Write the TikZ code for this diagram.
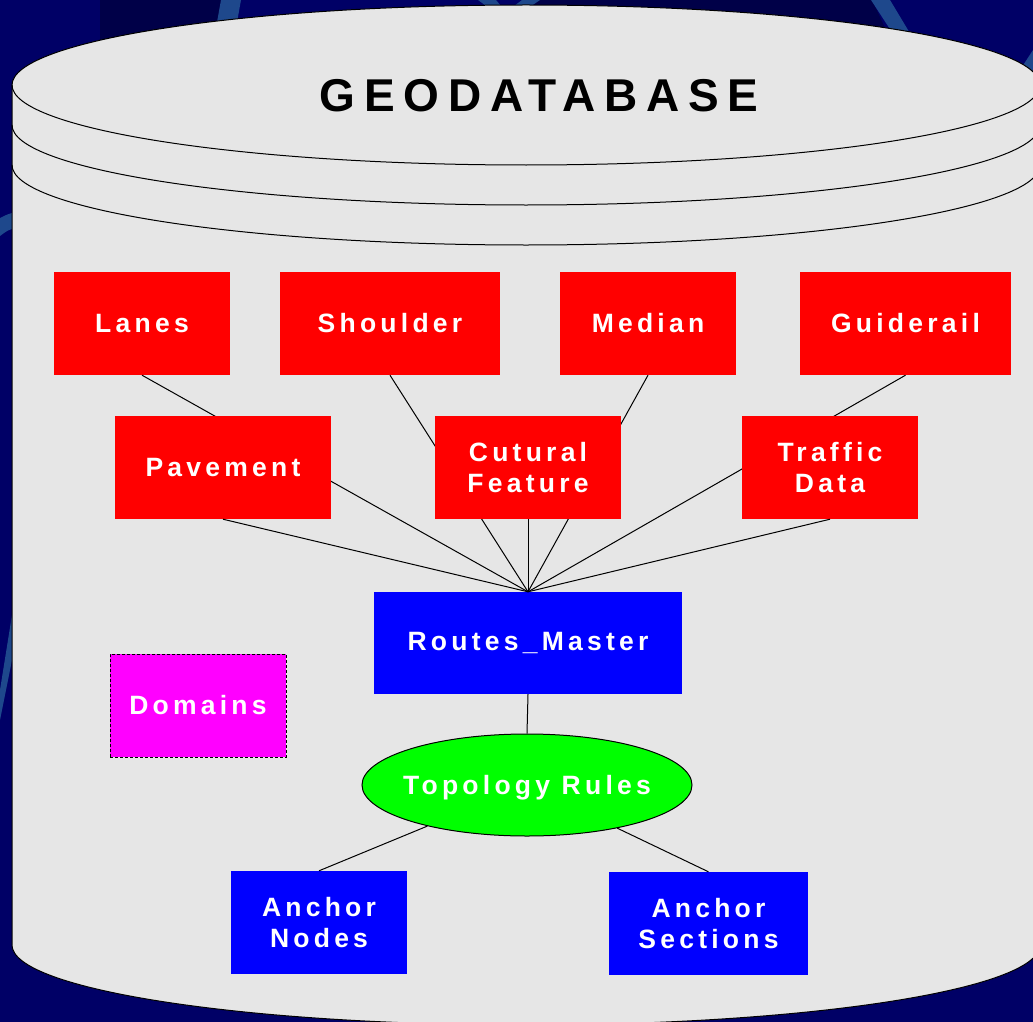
\documentclass[tikz,border=0pt]{standalone}
\usepackage{fontspec}
\setmainfont{Liberation Sans}
\newfontfamily\boxfont[LetterSpace=16]{Liberation Sans}
\newfontfamily\titlefont[LetterSpace=19]{Liberation Sans}
\usetikzlibrary{positioning,shapes.geometric}

\definecolor{bgnavy}{RGB}{0,0,102}
\definecolor{bgdark}{RGB}{0,0,72}
\definecolor{bgstripe}{RGB}{30,72,140}
\definecolor{dbgray}{RGB}{230,230,230}
\definecolor{domainpink}{RGB}{255,0,255}
\definecolor{rulegreen}{RGB}{0,255,0}

\tikzset{
  box/.style={rectangle, minimum height=103pt, inner sep=0pt, align=center,
    text=white, font={\fontsize{26.5}{31.5}\boxfont\bfseries}},
  feature/.style={box, fill=red},
  master/.style={box, fill=blue},
  link/.style={draw=black, line width=1pt},
}

\begin{document}
\begin{tikzpicture}[x=1pt, y=-1pt]
\useasboundingbox (0,0) rectangle (1033,1022);
\clip (0,0) rectangle (1033,1022);

%% Background
\fill[bgnavy] (0,0) rectangle (1033,1022);
\fill[bgdark] (100,0) -- (222,0) -- (212,60) -- (100,80) -- cycle;
\fill[bgdark] (527,0) -- (872,0) -- (900,60) -- (527,30) -- cycle;
\fill[bgstripe] (221,0) -- (241,0) -- (232,50) -- (212,50) -- cycle;
\fill[bgstripe] (478,0) -- (496,0) -- (506,12) -- (522,0) -- (540,0) -- (508,22) -- cycle;
\fill[bgstripe] (871,0) -- (890,0) -- (914,40) -- (897,40) -- cycle;
\fill[bgstripe] (1020,70) -- (1033,50) -- (1033,80) -- cycle;
\fill[bgstripe] (0,218) .. controls (8,214) .. (16,212) -- (16,228) .. controls (8,230) .. (0,236) -- cycle;
\fill[bgstripe] (0,690) -- (16,590) -- (16,640) -- (0,720) -- cycle;

%% Cylinder
\filldraw[fill=dbgray, draw=black, line width=1pt]
  (12,85) -- (12,945) arc[start angle=180, end angle=0, x radius=514, y radius=80]
  -- (1040,85) arc[start angle=0, end angle=-180, x radius=514, y radius=80] -- cycle;
\foreach \y in {85,125,165}
  \draw[line width=1pt] (12,\y) arc[start angle=180, end angle=0, x radius=514, y radius=80];
\node[font={\fontsize{46}{55}\titlefont\bfseries}] (title) at (539,96) {GEODATABASE};

%% Nodes definition
\node[feature, minimum width=176pt] (lanes) at (142,323.5) {Lanes};
\node[feature, minimum width=220pt] (shoulder) at (390,323.5) {Shoulder};
\node[feature, minimum width=176pt] (median) at (648,323.5) {Median};
\node[feature, minimum width=211pt] (guiderail) at (905.5,323.5) {Guiderail};
\node[master, minimum width=308pt, minimum height=102pt] (routes) at (528,643) {Routes\_Master};

%% Edges definition
\path[every edge/.style={link}]
    (lanes.south) edge (routes.north)
    (shoulder.south) edge (routes.north)
    (median.south) edge (routes.north)
    (guiderail.south) edge (routes.north);

\node[feature, minimum width=216pt] (pavement) at (223,467.5) {Pavement};
\node[feature, minimum width=186pt] (cutural) at (528,467.5) {Cutural\\Feature};
\node[feature, minimum width=176pt] (traffic) at (830,467.5) {Traffic\\Data};
\node[box, fill=domainpink, draw=black, line width=1pt, dash pattern=on 3pt off 2pt,
  minimum width=176pt] (domains) at (198,705.5) {Domains};
\node[box, ellipse, fill=rulegreen, draw=black, line width=1pt, text depth=0pt,
  inner xsep=-9pt, minimum width=330pt, minimum height=102pt] (topology) at (527,785) {Topology Rules};
\node[master, minimum width=176pt] (anc_nodes) at (319,922.5) {Anchor\\Nodes};
\node[master, minimum width=199pt] (anc_sections) at (708.5,923.5) {Anchor\\Sections};

\path[every edge/.style={link}]
    (pavement.south) edge (routes.north)
    (cutural.south) edge (routes.north)
    (traffic.south) edge (routes.north)
    (routes.south) edge (topology.north)
    (topology) edge (anc_nodes.north)
    (topology) edge (anc_sections.north);
\end{tikzpicture}
\end{document}
